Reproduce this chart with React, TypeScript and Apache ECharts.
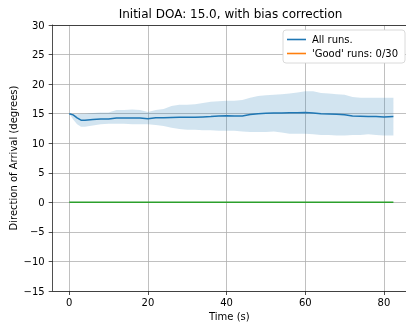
import React, { useEffect, useRef } from "react";
import * as echarts from "echarts";

const times = [0, 1, 2, 3, 4, 6, 8, 10, 12, 14, 16, 18, 20, 22, 24, 26, 28, 30, 32, 34, 36, 38, 40, 42, 44, 46, 48, 50, 52, 54, 56, 58, 60, 62, 64, 66, 68, 70, 72, 74, 76, 78, 80, 82.4];
const meanDoa = [15.0, 14.8, 14.3, 13.9, 13.9, 14.0, 14.1, 14.1, 14.25, 14.25, 14.25, 14.25, 14.15, 14.3, 14.3, 14.35, 14.4, 14.4, 14.4, 14.45, 14.5, 14.6, 14.65, 14.6, 14.6, 14.85, 15.0, 15.05, 15.1, 15.1, 15.15, 15.15, 15.2, 15.1, 15.0, 14.95, 14.9, 14.8, 14.6, 14.55, 14.5, 14.5, 14.45, 14.5];
const upperDoa = [15.0, 14.9, 14.9, 15.0, 15.0, 15.1, 15.2, 15.2, 15.6, 15.6, 15.7, 15.6, 15.3, 15.6, 15.8, 16.3, 16.5, 16.5, 16.6, 16.8, 17.0, 17.1, 17.2, 17.2, 17.3, 17.7, 18.0, 18.1, 18.2, 18.3, 18.4, 18.6, 18.8, 18.8, 18.5, 18.4, 18.3, 18.2, 17.8, 17.7, 17.7, 17.7, 17.7, 17.7];
const lowerDoa = [15.0, 14.0, 13.2, 12.8, 12.8, 13.0, 13.2, 13.3, 13.3, 13.3, 13.2, 13.2, 13.2, 13.1, 12.9, 12.6, 12.4, 12.3, 12.3, 12.2, 12.2, 12.1, 12.1, 12.1, 12.0, 11.9, 11.9, 11.9, 12.0, 11.8, 11.6, 11.6, 11.6, 11.5, 11.4, 11.4, 11.3, 11.3, 11.4, 11.4, 11.5, 11.4, 11.3, 11.3];
const trueDoa = [0, 0];
const trueTimes = [0, 82.4];
const xTicks = [0, 20, 40, 60, 80];
const titleText = "Initial DOA: 15.0, with bias correction";
const legendNames = ["All runs.", "'Good' runs: 0/30"];

const FONT = "DejaVu Sans";
const X_MIN = -4.2;
const X_MAX = 85.6;

export default function App() {
  const ref = useRef<HTMLDivElement>(null);
  useEffect(() => {
    if (!ref.current) return;
    const chart = echarts.init(ref.current, undefined, { renderer: "svg" });
    const axisLineStyle = { color: "#222", width: 0.8 };
    const gridLine = { color: "#b0b0b0", width: 0.8 };
    const bandData = times.map((t, i) => [t, lowerDoa[i], upperDoa[i]]);
    chart.setOption({
      animation: false,
      textStyle: { fontFamily: FONT },
      grid: {
        left: 52.7,
        top: 25,
        bottom: 35,
        right: 0,
        show: false,
        containLabel: false,
        outerBoundsMode: "none",
      },
      graphic: [
        {
          type: "text",
          x: 230.5,
          y: 14,
          style: {
            text: titleText,
            fontFamily: FONT,
            fontSize: 12,
            fill: "#000",
            textAlign: "center",
            textVerticalAlign: "middle",
          },
        },
      ],
      legend: {
        data: legendNames,
        orient: "vertical",
        left: 283,
        top: 30,
        padding: [4, 7, 4, 4],
        itemGap: 3,
        itemWidth: 19,
        itemHeight: 1.6,
        icon: "rect",
        backgroundColor: "#fff",
        borderColor: "#d0d0d0",
        borderWidth: 0.8,
        borderRadius: 3,
        textStyle: { fontFamily: FONT, fontSize: 10, color: "#000", lineHeight: 11, padding: [0, 0, 0, 1] },
      },
      xAxis: [
        {
          type: "value",
          min: X_MIN,
          max: X_MAX,
          name: "Time (s)",
          nameLocation: "middle",
          nameGap: 20,
          nameMoveOverlap: false,
          nameTextStyle: { fontFamily: FONT, fontSize: 10, color: "#000" },
          axisLine: { show: true, onZero: false, lineStyle: axisLineStyle },
          axisTick: { show: true, length: 4, lineStyle: axisLineStyle, customValues: xTicks },
          axisLabel: { fontFamily: FONT, fontSize: 10, color: "#000", margin: 6, customValues: xTicks },
          splitLine: { show: true, lineStyle: gridLine },
        },
        {
          type: "value",
          position: "top",
          min: X_MIN,
          max: X_MAX,
          axisLine: { show: true, onZero: false, lineStyle: axisLineStyle },
          axisTick: { show: false },
          axisLabel: { show: false },
          splitLine: { show: false },
        },
      ],
      yAxis: {
        type: "value",
        min: -15,
        max: 30,
        interval: 5,
        name: "Direction of Arrival (degrees)",
        nameLocation: "middle",
        nameGap: 34,
        nameMoveOverlap: false,
        nameTextStyle: { fontFamily: FONT, fontSize: 10, color: "#000" },
        axisLine: { show: true, onZero: false, lineStyle: axisLineStyle },
        axisTick: { show: true, length: 4, lineStyle: axisLineStyle },
        axisLabel: {
          fontFamily: FONT,
          fontSize: 10,
          color: "#000",
          margin: 8,
          formatter: (v: number) => (v < 0 ? "\u2212" + Math.abs(v) : String(v)),
        },
        splitLine: { show: true, lineStyle: gridLine },
      },
      series: [
        {
          name: "band",
          type: "custom",
          data: bandData,
          silent: true,
          z: 1,
          renderItem: (params: any, api: any) => {
            if (params.dataIndex !== 0) return null;
            const top = bandData.map((d) => api.coord([d[0], d[2]]));
            const bottom = bandData.map((d) => api.coord([d[0], d[1]])).reverse();
            return {
              type: "polygon",
              shape: { points: top.concat(bottom) },
              style: { fill: "#1f77b4", opacity: 0.2 },
            };
          },
        },
        {
          name: legendNames[0],
          type: "line",
          data: times.map((t, i) => [t, meanDoa[i]]),
          symbol: "none",
          color: "#1f77b4",
          lineStyle: { color: "#1f77b4", width: 1.5 },
          z: 3,
        },
        {
          name: legendNames[1],
          type: "line",
          data: [],
          symbol: "none",
          color: "#ff7f0e",
          lineStyle: { color: "#ff7f0e", width: 1.5 },
        },
        {
          name: "true",
          type: "line",
          data: trueTimes.map((t, i) => [t, trueDoa[i]]),
          symbol: "none",
          color: "#2ca02c",
          lineStyle: { color: "#2ca02c", width: 1.5 },
          z: 3,
        },
      ],
    });
    return () => chart.dispose();
  }, []);
  return (
    <div
      ref={ref}
      style={{ position: "fixed", left: 0, top: 0, width: 406, height: 326 }}
    />
  );
}
